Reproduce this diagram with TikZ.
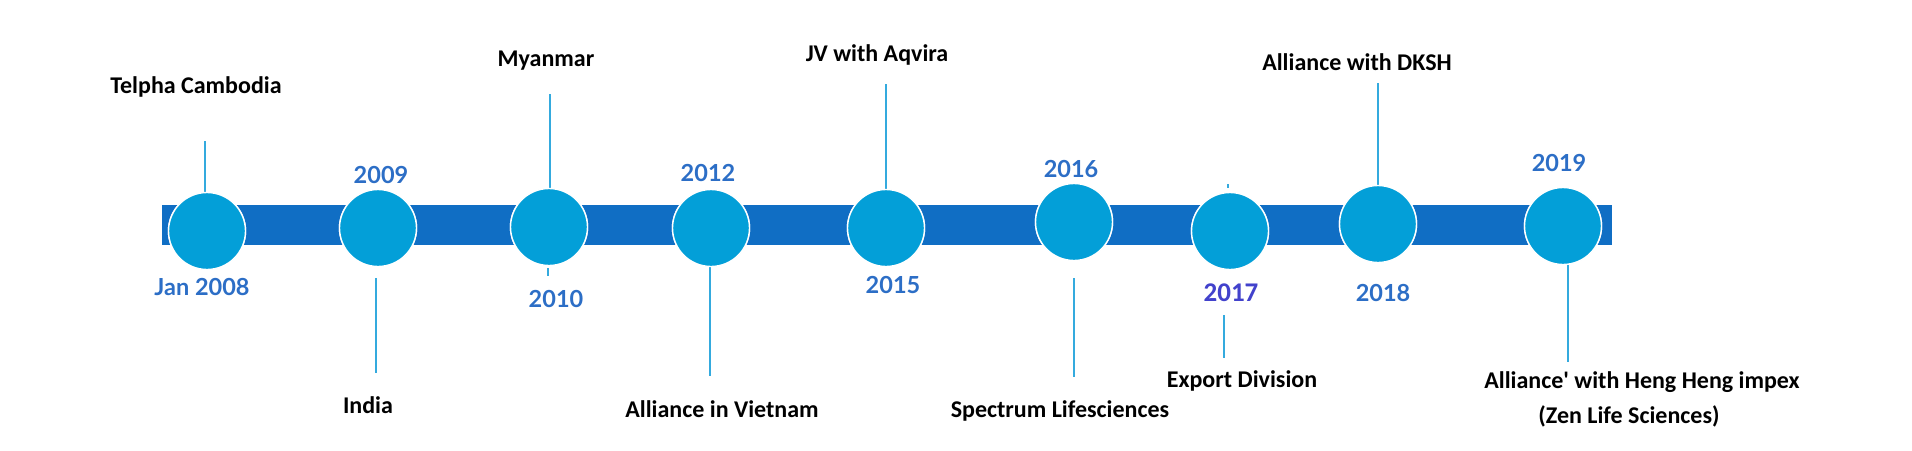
\documentclass[tikz,border=0pt]{standalone}
\usepackage{fontspec}
\newfontfamily\labfont{Carlito}
\newfontfamily\yrfont{Lato}
\definecolor{barblue}{RGB}{16,110,196}
\definecolor{dotblue}{RGB}{3,159,216}
\definecolor{lineblue}{RGB}{52,170,222}
\definecolor{yearblue}{RGB}{44,110,198}
\definecolor{yearpurple}{RGB}{66,66,204}
\tikzset{
  dot/.style={circle, fill=dotblue, draw=white, line width=1.4pt, minimum size=77pt, inner sep=0pt},
  conn/.style={draw=lineblue, line width=2pt},
  lab/.style={anchor=base, inner sep=0pt, font=\labfont\bfseries\fontsize{24}{28}\selectfont, text=black},
  yr/.style={anchor=base, inner sep=0pt, font=\yrfont\bfseries\fontsize{23.5}{28}\selectfont, text=yearblue},
  yrb/.style={anchor=base, inner sep=0pt, font=\labfont\bfseries\fontsize{27}{30}\selectfont, text=yearpurple}
}
\begin{document}
\begin{tikzpicture}[x=1pt,y=-1pt]
\useasboundingbox[fill=white] (0,0) rectangle (1912,450);
% bar
\fill[barblue] (162,205) rectangle (1612,245);
% line free ends
\coordinate (t1) at (205,141);
\coordinate (t2a) at (376,278); \coordinate (t2b) at (376,373);
\coordinate (t3) at (550,94);
\coordinate (t3a) at (548,268); \coordinate (t3b) at (548,276);
\coordinate (t4) at (710,376);
\coordinate (t5) at (886,84);
\coordinate (t6a) at (1074,278); \coordinate (t6b) at (1074,377);
\coordinate (t7a) at (1224,315); \coordinate (t7b) at (1224,358);
\coordinate (t7c) at (1228,184); \coordinate (t7d) at (1228,188);
\coordinate (t8) at (1378,83);
\coordinate (t9) at (1568,362);
% circle positions (anchors for connectors)
\path (207,231) node[dot] (c1) {};
\path (378,228) node[dot] (c2) {};
\path (549,227) node[dot] (c3) {};
\path (711,228) node[dot] (c4) {};
\path (886,228) node[dot] (c5) {};
\path (1074,222) node[dot] (c6) {};
\path (1230,231) node[dot] (c7) {};
\path (1378,224) node[dot] (c8) {};
\path (1563,226) node[dot] (c9) {};
% connectors
\draw[conn] (t1) -- (t1 |- c1.north);
\draw[conn] (t2a) -- (t2b);
\draw[conn] (t3) -- (t3 |- c3.north);
\draw[conn] (t3a) -- (t3b);
\draw[conn] (t4 |- c4.south) -- (t4);
\draw[conn] (t5) -- (t5 |- c5.north);
\draw[conn] (t6a) -- (t6b);
\draw[conn] (t7a) -- (t7b);
\draw[conn] (t7c) -- (t7d);
\draw[conn] (t8) -- (t8 |- c8.north);
\draw[conn] (t9 |- c9.south) -- (t9);
% circles on top
\foreach \n/\x/\y in {c1/207/231, c2/378/228, c3/549/227, c4/711/228, c5/886/228, c6/1074/222, c7/1230/231, c8/1378/224, c9/1563/226}
  \node[dot] (\n) at (\x,\y) {};
% labels
\node[lab] (l1) at (196,93) {Telpha Cambodia};
\node[lab] (l2) at (368,413) {India};
\node[lab] (l3) at (546,66) {Myanmar};
\node[lab] (l4) at (722,417) {Alliance in Vietnam};
\node[lab] (l5) at (877,61) {JV with Aqvira};
\node[lab] (l6) at (1060,417) {Spectrum Lifesciences};
\node[lab] (l7) at (1242,387) {Export Division};
\node[lab] (l8) at (1357,70) {Alliance with DKSH};
\node[lab] (l9) at (1642,388) {Alliance\textquotesingle{} with Heng Heng impex};
\node[lab] (l9b) at (1629,423) {(Zen Life Sciences)};
% years
\node[yr] (y1) at (202,295) {Jan 2008};
\node[yr] (y2) at (381,183) {2009};
\node[yr] (y3) at (556,307) {2010};
\node[yr] (y4) at (708,181) {2012};
\node[yr] (y5) at (893,293) {2015};
\node[yr] (y6) at (1071,177) {2016};
\node[yrb] (y7) at (1231,301) {2017};
\node[yr] (y8) at (1383,301) {2018};
\node[yr] (y9) at (1559,171) {2019};
\end{tikzpicture}
\end{document}
